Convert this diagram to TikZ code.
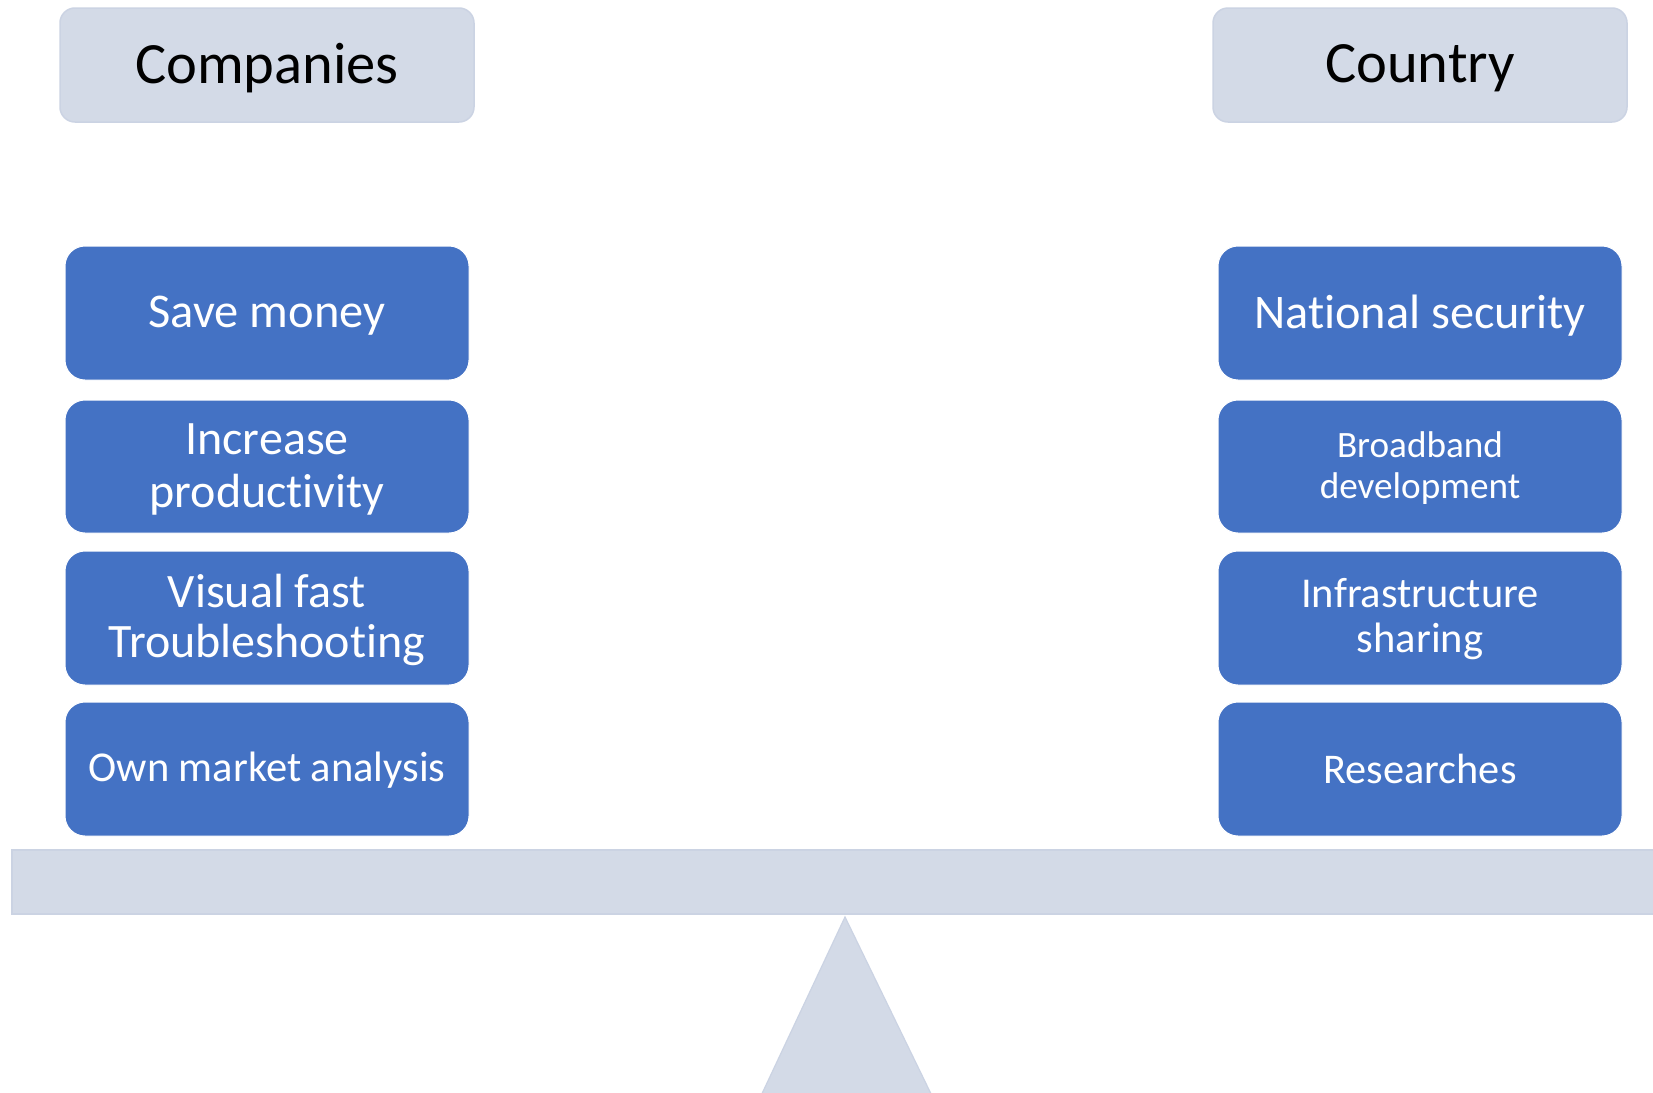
\documentclass[tikz,border=0pt]{standalone}
\usepackage{fontspec}
\setmainfont[Ligatures=NoCommon]{Carlito}
\definecolor{pblue}{HTML}{4472C4}
\definecolor{plight}{HTML}{D3DAE7}
\definecolor{plightedge}{HTML}{CBD3E3}
\begin{document}
\begin{tikzpicture}[x=1pt,y=-1pt,
  header/.style={draw=plightedge, line width=1.5pt, fill=plight, rounded corners=15pt,
    minimum width=414pt, minimum height=114pt, inner sep=0pt},
  headtext/.style={text=black, inner sep=0pt, font=\fontsize{58.5}{64}\selectfont},
  item/.style={draw=white, line width=1pt, fill=pblue, rounded corners=20pt,
    minimum width=404pt, minimum height=134pt, inner sep=0pt},
  itemtext/.style={text=white, align=center, inner sep=0pt},
  support/.style={fill=plight, draw=plightedge, line width=1.2pt}]
\useasboundingbox (0,0) rectangle (1653,1092);
\fill[white] (0,0) rectangle (1653,1092);
% headers
\node[header] (hc) at (267,65) {};
\node[headtext, yshift=-3pt] (hct) at (hc.center) {Companies};
\node[header] (hk) at (1420,65) {};
\node[headtext, yshift=-3pt] (hkt) at (hk.center) {Country};
% left items
\node[item] (l1) at (267,313) {};
\node[itemtext, yshift=-3pt, font=\fontsize{48.5}{53}\selectfont] (l1t) at (l1.center) {Save money};
\node[item, minimum height=133pt] (l2) at (267,466.5) {};
\node[itemtext, yshift=-3pt, font=\fontsize{48}{52.7}\selectfont] (l2t) at (l2.center) {Increase\\productivity};
\node[item] (l3) at (267,618) {};
\node[itemtext, yshift=-2pt, font=\fontsize{48}{50.6}\selectfont] (l3t) at (l3.center) {Visual fast\\Troubleshooting};
\node[item] (l4) at (267,769) {};
\node[itemtext, yshift=-1pt, font=\fontsize{42.5}{46}\selectfont] (l4t) at (l4.center) {Own market analysis};
% right items
\node[item] (r1) at (1420,313) {};
\node[itemtext, yshift=-3pt, font=\fontsize{48.3}{53}\selectfont] (r1t) at (r1.center) {National security};
\node[item, minimum height=133pt] (r2) at (1420,466.5) {};
\node[itemtext, yshift=-2pt, font=\fontsize{37.2}{41}\selectfont] (r2t) at (r2.center) {Broadband\\development};
\node[item] (r3) at (1420,618) {};
\node[itemtext, yshift=-1pt, font=\fontsize{42.5}{45.3}\selectfont] (r3t) at (r3.center) {Infrastructure\\sharing};
\node[item] (r4) at (1420,769) {};
\node[itemtext, yshift=0pt, font=\fontsize{42.3}{46}\selectfont] (r4t) at (r4.center) {Researches};
% beam and fulcrum
\draw[support] (12,850) rectangle (1665,914);
\draw[support] (845,917) -- (934,1100) -- (759,1100) -- cycle;
\end{tikzpicture}
\end{document}
